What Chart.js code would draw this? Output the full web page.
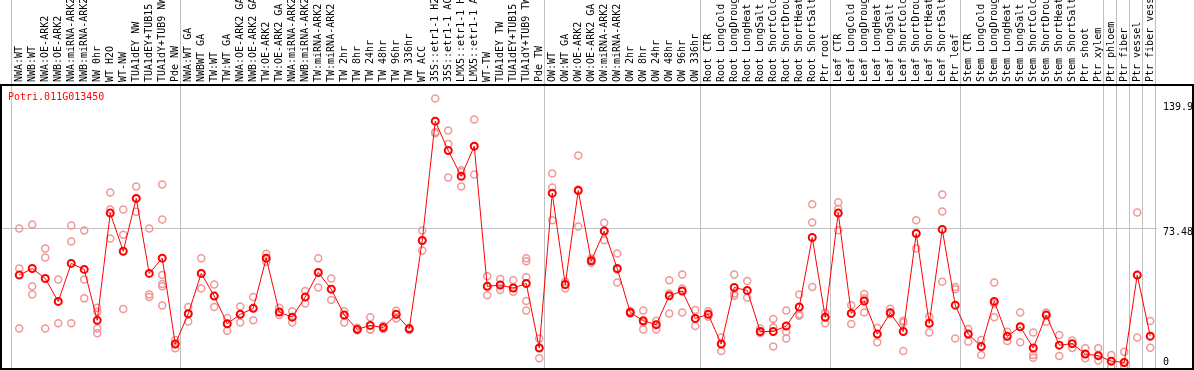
<!DOCTYPE html>
<html>
<head>
<meta charset="utf-8">
<script src="https://cdn.jsdelivr.net/npm/chart.js@4/dist/chart.umd.min.js"></script>
<style>
  html, body { margin: 0; padding: 0; background: #fff; }
</style>
</head>
<body>
<canvas id="grafico" width="1194" height="370"></canvas>
<script>
const geneName = 'Potri.011G013450';

const categories = [
    'NWA:WT', 'NWB:WT', 'NWA:OE-ARK2', 'NWB:OE-ARK2', 'NWA:miRNA-ARK2', 'NWB:miRNA-ARK2',
    'NW 0hr', 'WT H2O', 'WT-NW', 'TUA1dEY NW', 'TUA1dEY+TUB15 NW', 'TUA1dY+TUB9 NW', 'Pde NW',
    'NWA:WT GA', 'NWBWT GA', 'TW:WT', 'TW:WT GA', 'NWA:OE-ARK2 GA', 'NWB:OE-ARK2 GA',
    'TW:OE-ARK2', 'TW:OE-ARK2 GA', 'NWA:miRNA-ARK2 GA', 'NWB:miRNA-ARK2 GA', 'TW:miRNA-ARK2',
    'TW:miRNA-ARK2 GA', 'TW 2hr', 'TW 8hr', 'TW 24hr', 'TW 48hr', 'TW 96hr', 'TW 336hr',
    'WT ACC', '35S::etr1-1 H2O', '35S::etr1-1 ACC', 'LMX5::etr1-1 H2O', 'LMX5::etr1-1 ACC',
    'WT-TW', 'TUA1dEY TW', 'TUA1dEY+TUB15 TW', 'TUA1dY+TUB9 TW', 'Pde TW',
    'OW:WT', 'OW:WT GA', 'OW:OE-ARK2', 'OW:OE-ARK2 GA', 'OW:miRNA-ARK2', 'OW:miRNA-ARK2 GA',
    'OW 2hr', 'OW 8hr', 'OW 24hr', 'OW 48hr', 'OW 96hr', 'OW 336hr',
    'Root CTR', 'Root LongCold', 'Root LongDrought', 'Root LongHeat', 'Root LongSalt',
    'Root ShortCold', 'Root ShortDrought', 'Root ShortHeat', 'Root ShortSalt', 'Ptr root',
    'Leaf CTR', 'Leaf LongCold', 'Leaf LongDrought', 'Leaf LongHeat', 'Leaf LongSalt',
    'Leaf ShortCold', 'Leaf ShortDrought', 'Leaf ShortHeat', 'Leaf ShortSalt', 'Ptr leaf',
    'Stem CTR', 'Stem LongCold', 'Stem LongDrought', 'Stem LongHeat', 'Stem LongSalt',
    'Stem ShortCold', 'Stem ShortDrought', 'Stem ShortHeat', 'Stem ShortSalt', 'Ptr shoot',
    'Ptr xylem', 'Ptr phloem', 'Ptr fiber', 'Ptr vessel', 'Ptr fiber vessel'
];

// media de cada amostra
const meanValues = [
    48.6, 52.1, 46.8, 34.6, 54.8, 51.6, 24.5, 81.6, 61.3, 89.4, 49.5, 57.6, 11.9,
    28.0, 49.5, 37.4, 22.7, 27.7, 30.9, 57.6, 28.9, 26.2, 36.9, 50.0, 41.1, 27.3,
    19.7, 21.8, 20.7, 27.7, 20.0, 67.0, 130.5, 114.9, 101.2, 117.2, 42.6, 43.3, 41.7,
    44.1, 9.8,
    92.2, 43.6, 93.6, 56.2, 72.0, 52.1, 28.7, 24.3, 22.2, 37.6, 40.1, 25.5,
    27.7, 11.9, 42.0, 40.4, 18.6, 18.6, 21.5, 31.6, 68.6, 26.1,
    81.6, 28.2, 34.8, 17.2, 28.5, 18.6, 70.7, 22.9, 72.9, 32.6,
    17.2, 10.6, 34.6, 16.0, 21.1, 9.8, 27.3, 11.3, 12.1, 6.6, 5.7,
    2.8, 2.1, 48.6, 16.1
];

// replicas de cada amostra
const replicateValues = [
    [73.4, 52.1, 20.2], [75.5, 42.6, 38.3], [62.8, 58.0, 20.2], [46.3, 34.6, 22.9],
    [75.0, 66.5, 22.9], [72.3, 46.3, 36.2], [31.2, 29.1, 20.2, 17.6], [92.6, 83.5, 68.1],
    [83.5, 70.0, 30.5], [95.7, 89.4, 82.3], [73.4, 38.3, 36.9],
    [96.8, 78.2, 48.6, 43.8, 42.6, 32.4], [14.0, 11.9, 9.6],
    [31.6, 28.0, 23.9], [57.6, 49.5, 41.5], [43.6, 37.4, 31.6], [25.7, 22.7, 19.0],
    [31.9, 27.7, 23.4], [36.9, 30.9, 24.5], [59.9, 57.6, 55.7], [31.2, 28.9, 27.3],
    [29.4, 26.2, 23.4], [40.1, 36.9, 33.5], [57.6, 50.0, 42.0], [46.8, 41.1, 35.3],
    [29.4, 27.3, 23.4], [20.5, 19.4, 19.2], [26.1, 19.7, 19.6], [21.6, 20.7, 19.9],
    [29.6, 27.7, 25.5], [20.6, 20.0, 19.4], [72.3, 67.0, 61.7], [142.6, 124.8, 124.1],
    [125.5, 118.3, 100.5], [104.4, 103.5, 95.7], [131.4, 117.2, 102.1], [48.0, 42.6, 37.9],
    [46.5, 43.3, 40.6], [45.9, 41.7, 39.7], [57.6, 56.0, 47.5, 34.8, 29.8], [14.9, 9.8, 4.3],
    [102.7, 95.2, 77.8], [45.0, 43.6, 41.5], [112.2, 94.1, 74.5], [57.4, 56.2, 55.1],
    [76.4, 72.0, 67.2], [60.1, 51.6, 44.7], [29.5, 28.7, 28.0], [29.8, 23.4, 19.7],
    [24.3, 22.2, 19.7], [45.9, 38.8, 28.2], [48.9, 41.5, 28.7], [30.0, 25.5, 21.5],
    [29.4, 27.7, 26.4], [15.4, 11.9, 8.2], [48.9, 38.8, 37.6], [45.4, 40.4, 36.5],
    [20.2, 18.6, 17.6], [25.2, 20.7, 10.6], [29.8, 18.4, 14.9], [38.3, 27.7, 27.0],
    [86.3, 76.6, 42.2], [28.5, 26.1, 22.9],
    [87.4, 83.7, 72.5], [32.6, 28.2, 22.5], [38.5, 36.2, 28.7], [20.4, 17.2, 12.8],
    [30.7, 28.5, 27.7], [24.3, 23.4, 8.2], [77.8, 70.7, 62.8], [26.4, 22.9, 18.1],
    [91.5, 82.4, 45.0], [42.2, 41.1, 14.9],
    [19.9, 17.2, 13.1], [14.0, 10.6, 6.0], [44.7, 33.3, 26.1], [18.4, 16.0, 13.5],
    [28.7, 21.1, 12.8], [18.1, 6.0, 4.6], [28.7, 27.3, 23.8], [16.7, 11.3, 5.5],
    [13.8, 12.1, 9.8], [9.6, 6.6, 4.3], [9.6, 5.7, 3.2],
    [6.0, 2.8, 0.0], [7.8, 2.1, 0.0], [81.9, 48.6, 15.4], [24.1, 16.1, 9.9]
];

const yTicks = [0, 73.48, 139.9];

// ultima amostra de cada grupo (-1 = antes da primeira)
const groupEnds = [-1, 12, 40, 52, 62, 72, 83, 84, 85, 86, 87];

document.addEventListener('DOMContentLoaded', function() {
    const pontosMedia = meanValues.map((v, i) => ({ x: i, y: v }));
    const pontosReplicas = [];
    replicateValues.forEach((reps, i) => {
        reps.forEach(v => pontosReplicas.push({ x: i, y: v }));
    });

    // linhas cinzas entre os grupos, altura toda
    const separadores = {
        id: 'separadores',
        beforeDraw(chart) {
            const { ctx, scales: { x }, height } = chart;
            ctx.save();
            ctx.strokeStyle = '#c0c0c0';
            ctx.lineWidth = 1;
            groupEnds.forEach(i => {
                const px = Math.round(x.getPixelForValue(i + 0.36)) + 0.5;
                ctx.beginPath();
                ctx.moveTo(px, 0);
                ctx.lineTo(px, height);
                ctx.stroke();
            });
            ctx.restore();
        }
    };

    // moldura, rotulos do eixo y e nome do gene
    const moldura = {
        id: 'moldura',
        afterDraw(chart) {
            const { ctx, chartArea: a, scales: { y }, width } = chart;
            ctx.save();
            ctx.strokeStyle = '#000';
            ctx.lineWidth = 2;
            ctx.beginPath();
            ctx.moveTo(0, a.top); ctx.lineTo(width, a.top);
            ctx.moveTo(0, a.bottom - 1); ctx.lineTo(width, a.bottom - 1);
            ctx.moveTo(1, a.top); ctx.lineTo(1, a.bottom);
            ctx.moveTo(width - 1, a.top); ctx.lineTo(width - 1, a.bottom);
            ctx.stroke();

            ctx.font = '10px "DejaVu Sans Mono"';
            ctx.textBaseline = 'middle';
            ctx.fillStyle = '#000';
            yTicks.forEach(v => {
                const py = Math.min(y.getPixelForValue(v) + 4, a.bottom - 8);
                ctx.fillText(String(v), a.right + 6, py);
            });

            ctx.fillStyle = '#ff0000';
            ctx.fillText(geneName, a.left + 8, a.top + 12);
            ctx.restore();
        }
    };

    const ctx = document.getElementById('grafico').getContext('2d');
    new Chart(ctx, {
        type: 'line',
        data: {
            datasets: [{
                data: pontosMedia,
                borderColor: '#ff0000',
                borderWidth: 1,
                pointRadius: 3.5,
                pointBorderWidth: 2,
                pointBorderColor: '#ff0000',
                pointBackgroundColor: 'rgba(0,0,0,0)',
                fill: false,
                tension: 0
            }, {
                data: pontosReplicas,
                showLine: false,
                pointRadius: 3.5,
                pointBorderWidth: 1.5,
                pointBorderColor: '#f09898',
                pointBackgroundColor: 'rgba(0,0,0,0)'
            }]
        },
        options: {
            responsive: false,
            animation: false,
            events: [],
            layout: { padding: 0, autoPadding: false },
            plugins: {
                legend: { display: false },
                tooltip: { enabled: false }
            },
            scales: {
                x: {
                    type: 'linear',
                    position: 'top',
                    min: -1.48,
                    max: 87.52,
                    afterBuildTicks: s => { s.ticks = categories.map((c, i) => ({ value: i })); },
                    afterFit: s => { s.height = 85; },
                    ticks: {
                        autoSkip: false,
                        minRotation: 90,
                        maxRotation: 90,
                        padding: 3,
                        labelOffset: 12,
                        color: '#000',
                        font: { family: 'DejaVu Sans Mono', size: 10 },
                        callback: v => categories[v]
                    },
                    grid: { display: false, drawTicks: false },
                    border: { display: false }
                },
                y: {
                    type: 'linear',
                    position: 'right',
                    min: -1.92,
                    max: 149.76,
                    afterBuildTicks: s => { s.ticks = yTicks.map(v => ({ value: v })); },
                    afterFit: s => { s.width = 37; },
                    ticks: { display: false },
                    grid: {
                        color: c => (c.tick && c.tick.value === 73.48) ? '#c0c0c0' : 'rgba(0,0,0,0)',
                        drawTicks: false
                    },
                    border: { display: false }
                }
            }
        },
        plugins: [separadores, moldura]
    });
});
</script>
</body>
</html>
